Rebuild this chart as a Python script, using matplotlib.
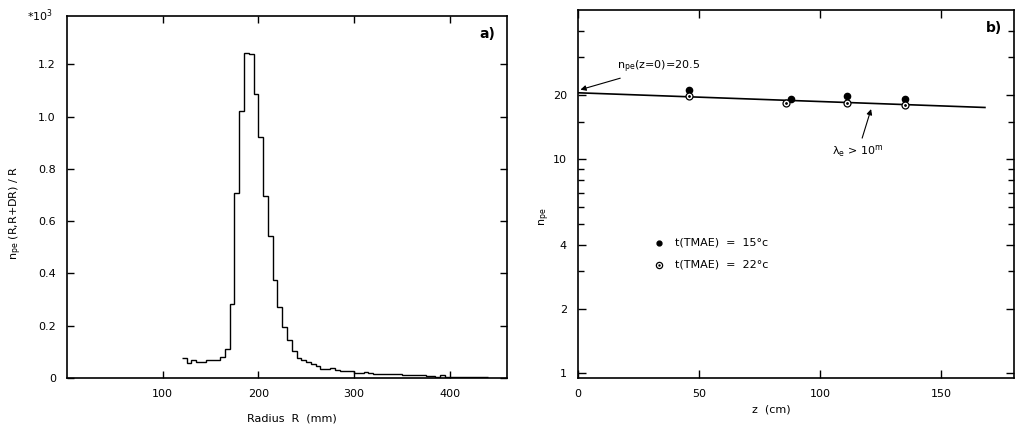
import numpy as np
import matplotlib
matplotlib.use("Agg")
import matplotlib.pyplot as plt
from matplotlib.ticker import FixedLocator, NullFormatter

plt.rcParams['font.family'] = ['DejaVu Sans']
plt.rcParams['mathtext.default'] = 'regular'

# ---- panel a: n_pe per radius bin (units of 10^3) ----
bin_lo = 120      # mm, first bin edge
bin_width = 5     # mm
npe_hist = [0.078, 0.058, 0.068, 0.062, 0.063, 0.067, 0.067, 0.070, 0.080, 0.110,
            0.285, 0.707, 1.021, 1.244, 1.238, 1.086, 0.923, 0.697, 0.542, 0.374,
            0.272, 0.196, 0.146, 0.103, 0.077, 0.068, 0.062, 0.052, 0.046, 0.036,
            0.033, 0.037, 0.030, 0.028, 0.027, 0.027, 0.021, 0.021, 0.022, 0.019,
            0.017, 0.016, 0.017, 0.014, 0.016, 0.015, 0.012, 0.013, 0.011, 0.010,
            0.011, 0.008, 0.007, 0.005, 0.011, 0.004, 0.003, 0.003, 0.003, 0.003,
            0.003, 0.003, 0.003, 0.003]
a_yticks = [0, 0.2, 0.4, 0.6, 0.8, 1.0, 1.2]
a_xticks = [100, 200, 300, 400]

# ---- panel b: n_pe vs drift length z ----
z_15 = [46, 88, 111, 135]
npe_15 = [21.1, 19.1, 19.9, 19.1]
z_22 = [46, 86, 111, 135]
npe_22 = [19.8, 18.4, 18.4, 18.0]
fit_z = [0, 168]
fit_npe = [20.5, 17.5]
b_yticks = [1, 2, 4, 10, 20]
b_yminor = [3, 5, 6, 7, 8, 9, 15, 30, 40]
b_xticks = [0, 50, 100, 150]

W, H = 1019, 424
fig = plt.figure(figsize=(W / 100, H / 100), dpi=100)

def box(l, t, r, b):
    return [l / W, 1 - b / H, (r - l) / W, (b - t) / H]

fs = 8

# ---------------- panel a ----------------
ax = fig.add_axes(box(67, 16, 507, 378))
edges = bin_lo + bin_width * np.arange(len(npe_hist) + 1)
ax.stairs(npe_hist, edges, color='black', lw=1.0, baseline=None)
ax.set_xlim(0, 460)
ax.set_ylim(0, 1.385)
ax.set_xticks(a_xticks)
ax.set_yticks(a_yticks)
ax.set_yticklabels(['0', '0.2', '0.4', '0.6', '0.8', '1.0', '1.2'])
ax.tick_params(direction='in', length=5, width=1, top=True, right=True,
               labelsize=fs, pad=8)
ax.set_xlabel('Radius  R  (mm)', fontsize=fs)
ax.xaxis.set_label_coords(0.51, -0.097)
ax.set_ylabel('$n_{pe}$ (R,R+DR) / R', fontsize=fs)
ax.yaxis.set_label_coords(-0.097, 0.456)
ax.text(-0.09, 1.0, r'$*10^3$', transform=ax.transAxes, fontsize=fs,
        ha='left', va='center')
ax.text(0.955, 0.95, 'a)', transform=ax.transAxes, fontsize=10,
        fontweight='bold', ha='center', va='center')
for s in ax.spines.values():
    s.set_linewidth(1.2)

# ---------------- panel b ----------------
bx = fig.add_axes(box(578, 10, 1014, 378))
bx.set_yscale('log')
bx.plot(fit_z, fit_npe, color='black', lw=1.2)
bx.plot(z_15, npe_15, 'o', color='black', ms=4.5)
bx.plot(z_22, npe_22, 'o', mfc='white', mec='black', mew=0.9, ms=5)
bx.plot(z_22, npe_22, '.', color='black', ms=2)
bx.set_xlim(0, 180)
bx.set_ylim(0.95, 50)
bx.yaxis.set_major_locator(FixedLocator(b_yticks))
bx.set_yticklabels([str(v) for v in b_yticks])
bx.yaxis.set_minor_locator(FixedLocator(b_yminor))
bx.yaxis.set_minor_formatter(NullFormatter())
bx.set_xticks(b_xticks)
bx.tick_params(which='major', direction='in', length=6, width=1, top=True,
               right=True, labelsize=fs, pad=8)
bx.tick_params(which='minor', direction='in', length=4, width=1, right=True)
bx.set_xlabel('z  (cm)', fontsize=fs)
bx.xaxis.set_label_coords(0.444, -0.073)
bx.set_ylabel('$n_{pe}$', fontsize=fs)
bx.yaxis.set_label_coords(-0.06, 0.4375)
bx.text(0.955, 0.95, 'b)', transform=bx.transAxes, fontsize=10,
        fontweight='bold', ha='center', va='center')

bx.annotate('$n_{pe}$(z=0)=20.5', xy=(1, 21.2), xytext=(16, 27),
            fontsize=fs, ha='left', va='center',
            arrowprops=dict(arrowstyle='-|>', color='black', lw=0.8,
                            mutation_scale=8, shrinkA=0, shrinkB=0))
bx.annotate(r'$\lambda_e$ > 10$^m$', xy=(121, 17.2), xytext=(105, 10.9),
            fontsize=fs, ha='left', va='center',
            arrowprops=dict(arrowstyle='-|>', color='black', lw=0.8,
                            mutation_scale=8, shrinkA=2, shrinkB=0))

# legend drawn as text
bx.plot([33.5], [4.07], 'o', color='black', ms=3.5)
bx.text(40, 4.07, 't(TMAE)  =  15°c', fontsize=fs, va='center')
bx.plot([33.5], [3.22], 'o', mfc='white', mec='black', mew=0.9, ms=4.5)
bx.plot([33.5], [3.22], '.', color='black', ms=1.5)
bx.text(40, 3.22, 't(TMAE)  =  22°c', fontsize=fs, va='center')
for s in bx.spines.values():
    s.set_linewidth(1.2)

fig.savefig('out.png', dpi=100)
